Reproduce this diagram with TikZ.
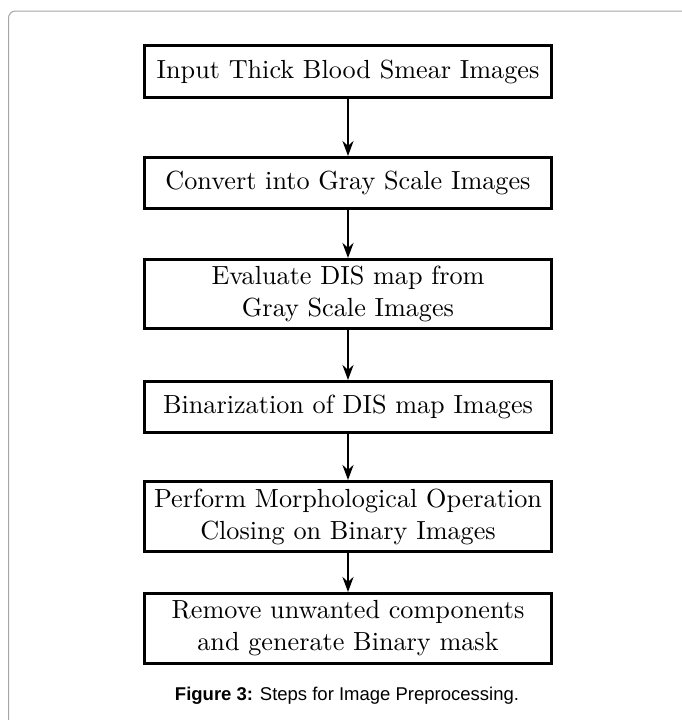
\documentclass[tikz,border=0pt]{standalone}
\usepackage{fontspec}
\setmainfont{lmroman10-regular}[Extension=.otf]
\newfontfamily\capfont{Liberation Sans}
\usetikzlibrary{arrows.meta}
\begin{document}
\begin{tikzpicture}[x=1pt,y=-1pt,
  stepbox/.style={draw=black, line width=3pt, minimum width=407pt, inner sep=0pt,
    align=center, font=\fontsize{26.2}{32}\selectfont},
  flow/.style={line width=2.6pt, -{Stealth[length=15pt,width=11pt]}}]
\useasboundingbox (0,0) rectangle (681,720);
\draw[gray!70, line width=1pt, rounded corners=7pt] (8.5,11) rectangle (720,760);
\node[stepbox, minimum height=52pt] (b1) at (348,71.5) {Input Thick Blood Smear Images};
\node[stepbox, minimum height=51pt] (b2) at (348,183) {Convert into Gray Scale Images};
\node[stepbox, minimum height=69pt] (b3) at (348,294) {Evaluate DIS map from\\Gray Scale Images};
\node[stepbox, minimum height=51pt] (b4) at (348,407) {Binarization of DIS map Images};
\node[stepbox, minimum height=70pt] (b5) at (348,516.5) {Perform Morphological Operation\\Closing on Binary Images};
\node[stepbox, minimum height=70pt] (b6) at (348,628.5) {Remove unwanted components\\and generate Binary mask};
\draw[flow] (b1) -- (b2);
\draw[flow] (b2) -- (b3);
\draw[flow] (b3) -- (b4);
\draw[flow] (b4) -- (b5);
\draw[flow] (b5) -- (b6);
\node[anchor=base, inner sep=0pt, font=\capfont\fontsize{18.5}{22}\selectfont] (cap) at (347,700) {\textbf{Figure 3:} Steps for Image Preprocessing.};
\end{tikzpicture}
\end{document}
